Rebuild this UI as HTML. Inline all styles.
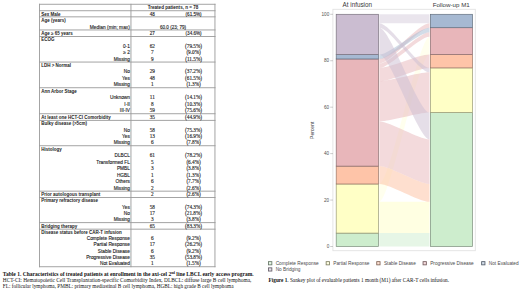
<!DOCTYPE html>
<html><head><meta charset="utf-8"><style>
html,body{margin:0;padding:0;background:#fff;}
body{width:520px;height:292px;position:relative;overflow:hidden;}
svg{position:absolute;left:0;top:0;}
</style></head><body>
<svg width="520" height="292" viewBox="0 0 520 292">
<rect x="39.00" y="3.80" width="176.50" height="0.9" fill="#9a9a9a"/>
<rect x="39.00" y="10.30" width="176.50" height="0.9" fill="#9a9a9a"/>
<rect x="39.00" y="16.40" width="176.50" height="0.9" fill="#9a9a9a"/>
<rect x="39.00" y="29.50" width="176.50" height="0.9" fill="#9a9a9a"/>
<rect x="39.00" y="36.00" width="176.50" height="0.9" fill="#9a9a9a"/>
<rect x="39.00" y="61.60" width="176.50" height="0.9" fill="#9a9a9a"/>
<rect x="39.00" y="87.30" width="176.50" height="0.9" fill="#9a9a9a"/>
<rect x="39.00" y="113.30" width="176.50" height="0.9" fill="#9a9a9a"/>
<rect x="39.00" y="119.90" width="176.50" height="0.9" fill="#9a9a9a"/>
<rect x="39.00" y="145.30" width="176.50" height="0.9" fill="#9a9a9a"/>
<rect x="39.00" y="190.70" width="176.50" height="0.9" fill="#9a9a9a"/>
<rect x="39.00" y="197.00" width="176.50" height="0.9" fill="#9a9a9a"/>
<rect x="39.00" y="222.20" width="176.50" height="0.9" fill="#9a9a9a"/>
<rect x="39.00" y="228.70" width="176.50" height="0.9" fill="#9a9a9a"/>
<rect x="39.00" y="266.30" width="176.50" height="0.9" fill="#9a9a9a"/>
<rect x="39.00" y="3.80" width="0.9" height="263.40" fill="#9a9a9a"/>
<rect x="130.50" y="3.80" width="0.9" height="263.40" fill="#9a9a9a"/>
<rect x="214.50" y="3.80" width="0.9" height="263.40" fill="#9a9a9a"/>
<text x="173.00" y="9.30" font-family="Liberation Sans" font-size="4.5" font-weight="bold" text-anchor="middle" fill="#1a1a1a" textLength="50.6" lengthAdjust="spacingAndGlyphs">Treated patients, n = 78</text>
<text x="41.20" y="15.60" font-family="Liberation Sans" font-size="4.5" font-weight="bold" fill="#1a1a1a">Sex Male</text>
<text x="152.30" y="15.60" font-family="Liberation Sans" font-size="4.6" text-anchor="middle" fill="#1a1a1a" stroke="#1a1a1a" stroke-width="0.12">48</text>
<text x="193.60" y="15.60" font-family="Liberation Sans" font-size="4.6" text-anchor="middle" fill="#1a1a1a" stroke="#1a1a1a" stroke-width="0.12">(61.5%)</text>
<text x="41.20" y="22.15" font-family="Liberation Sans" font-size="4.5" font-weight="bold" fill="#1a1a1a">Age (years)</text>
<text x="129.90" y="28.70" font-family="Liberation Sans" font-size="4.85" text-anchor="end" fill="#1a1a1a" stroke="#1a1a1a" stroke-width="0.12">Median (min; max)</text>
<text x="173.00" y="28.70" font-family="Liberation Sans" font-size="4.6" text-anchor="middle" fill="#1a1a1a" stroke="#1a1a1a" stroke-width="0.12">60.0 (23; 79)</text>
<text x="41.20" y="35.20" font-family="Liberation Sans" font-size="4.5" font-weight="bold" fill="#1a1a1a">Age ≥ 65 years</text>
<text x="152.30" y="35.20" font-family="Liberation Sans" font-size="4.6" text-anchor="middle" fill="#1a1a1a" stroke="#1a1a1a" stroke-width="0.12">27</text>
<text x="193.60" y="35.20" font-family="Liberation Sans" font-size="4.6" text-anchor="middle" fill="#1a1a1a" stroke="#1a1a1a" stroke-width="0.12">(34.6%)</text>
<text x="41.20" y="41.30" font-family="Liberation Sans" font-size="4.5" font-weight="bold" fill="#1a1a1a">ECOG</text>
<text x="129.90" y="47.70" font-family="Liberation Sans" font-size="4.78" text-anchor="end" fill="#1a1a1a" stroke="#1a1a1a" stroke-width="0.12">0-1</text>
<text x="152.30" y="47.70" font-family="Liberation Serif" font-size="5.25" text-anchor="middle" fill="#1a1a1a" stroke="#1a1a1a" stroke-width="0.12">62</text>
<text x="193.60" y="47.70" font-family="Liberation Serif" font-size="5.25" text-anchor="middle" fill="#1a1a1a" stroke="#1a1a1a" stroke-width="0.12">(79.5%)</text>
<text x="129.90" y="54.10" font-family="Liberation Sans" font-size="4.78" text-anchor="end" fill="#1a1a1a" stroke="#1a1a1a" stroke-width="0.12">≥ 2</text>
<text x="152.30" y="54.10" font-family="Liberation Serif" font-size="5.25" text-anchor="middle" fill="#1a1a1a" stroke="#1a1a1a" stroke-width="0.12">7</text>
<text x="193.60" y="54.10" font-family="Liberation Serif" font-size="5.25" text-anchor="middle" fill="#1a1a1a" stroke="#1a1a1a" stroke-width="0.12">(9.0%)</text>
<text x="129.90" y="60.50" font-family="Liberation Sans" font-size="4.78" text-anchor="end" fill="#1a1a1a" stroke="#1a1a1a" stroke-width="0.12">Missing</text>
<text x="152.30" y="60.50" font-family="Liberation Serif" font-size="5.25" text-anchor="middle" fill="#1a1a1a" stroke="#1a1a1a" stroke-width="0.12">9</text>
<text x="193.60" y="60.50" font-family="Liberation Serif" font-size="5.25" text-anchor="middle" fill="#1a1a1a" stroke="#1a1a1a" stroke-width="0.12">(11.5%)</text>
<text x="41.20" y="66.93" font-family="Liberation Sans" font-size="4.5" font-weight="bold" fill="#1a1a1a">LDH &gt; Normal</text>
<text x="129.90" y="73.35" font-family="Liberation Sans" font-size="4.78" text-anchor="end" fill="#1a1a1a" stroke="#1a1a1a" stroke-width="0.12">No</text>
<text x="152.30" y="73.35" font-family="Liberation Serif" font-size="5.25" text-anchor="middle" fill="#1a1a1a" stroke="#1a1a1a" stroke-width="0.12">29</text>
<text x="193.60" y="73.35" font-family="Liberation Serif" font-size="5.25" text-anchor="middle" fill="#1a1a1a" stroke="#1a1a1a" stroke-width="0.12">(37.2%)</text>
<text x="129.90" y="79.78" font-family="Liberation Sans" font-size="4.78" text-anchor="end" fill="#1a1a1a" stroke="#1a1a1a" stroke-width="0.12">Yes</text>
<text x="152.30" y="79.78" font-family="Liberation Serif" font-size="5.25" text-anchor="middle" fill="#1a1a1a" stroke="#1a1a1a" stroke-width="0.12">48</text>
<text x="193.60" y="79.78" font-family="Liberation Serif" font-size="5.25" text-anchor="middle" fill="#1a1a1a" stroke="#1a1a1a" stroke-width="0.12">(61.5%)</text>
<text x="129.90" y="86.20" font-family="Liberation Sans" font-size="4.78" text-anchor="end" fill="#1a1a1a" stroke="#1a1a1a" stroke-width="0.12">Missing</text>
<text x="152.30" y="86.20" font-family="Liberation Serif" font-size="5.25" text-anchor="middle" fill="#1a1a1a" stroke="#1a1a1a" stroke-width="0.12">1</text>
<text x="193.60" y="86.20" font-family="Liberation Serif" font-size="5.25" text-anchor="middle" fill="#1a1a1a" stroke="#1a1a1a" stroke-width="0.12">(1.3%)</text>
<text x="41.20" y="92.70" font-family="Liberation Sans" font-size="4.5" font-weight="bold" fill="#1a1a1a">Ann Arbor Stage</text>
<text x="129.90" y="99.20" font-family="Liberation Sans" font-size="4.78" text-anchor="end" fill="#1a1a1a" stroke="#1a1a1a" stroke-width="0.12">Unknown</text>
<text x="152.30" y="99.20" font-family="Liberation Serif" font-size="5.25" text-anchor="middle" fill="#1a1a1a" stroke="#1a1a1a" stroke-width="0.12">11</text>
<text x="193.60" y="99.20" font-family="Liberation Serif" font-size="5.25" text-anchor="middle" fill="#1a1a1a" stroke="#1a1a1a" stroke-width="0.12">(14.1%)</text>
<text x="129.90" y="105.70" font-family="Liberation Sans" font-size="4.78" text-anchor="end" fill="#1a1a1a" stroke="#1a1a1a" stroke-width="0.12">I-II</text>
<text x="152.30" y="105.70" font-family="Liberation Serif" font-size="5.25" text-anchor="middle" fill="#1a1a1a" stroke="#1a1a1a" stroke-width="0.12">8</text>
<text x="193.60" y="105.70" font-family="Liberation Serif" font-size="5.25" text-anchor="middle" fill="#1a1a1a" stroke="#1a1a1a" stroke-width="0.12">(10.3%)</text>
<text x="129.90" y="112.20" font-family="Liberation Sans" font-size="4.78" text-anchor="end" fill="#1a1a1a" stroke="#1a1a1a" stroke-width="0.12">III-IV</text>
<text x="152.30" y="112.20" font-family="Liberation Serif" font-size="5.25" text-anchor="middle" fill="#1a1a1a" stroke="#1a1a1a" stroke-width="0.12">59</text>
<text x="193.60" y="112.20" font-family="Liberation Serif" font-size="5.25" text-anchor="middle" fill="#1a1a1a" stroke="#1a1a1a" stroke-width="0.12">(75.6%)</text>
<text x="41.20" y="118.80" font-family="Liberation Sans" font-size="4.5" font-weight="bold" fill="#1a1a1a">At least one HCT-CI Comorbidity</text>
<text x="152.30" y="118.80" font-family="Liberation Serif" font-size="5.25" text-anchor="middle" fill="#1a1a1a" stroke="#1a1a1a" stroke-width="0.12">35</text>
<text x="193.60" y="118.80" font-family="Liberation Serif" font-size="5.25" text-anchor="middle" fill="#1a1a1a" stroke="#1a1a1a" stroke-width="0.12">(44.9%)</text>
<text x="41.20" y="125.15" font-family="Liberation Sans" font-size="4.5" font-weight="bold" fill="#1a1a1a">Bulky disease (&gt;5cm)</text>
<text x="129.90" y="131.50" font-family="Liberation Sans" font-size="4.78" text-anchor="end" fill="#1a1a1a" stroke="#1a1a1a" stroke-width="0.12">No</text>
<text x="152.30" y="131.50" font-family="Liberation Serif" font-size="5.25" text-anchor="middle" fill="#1a1a1a" stroke="#1a1a1a" stroke-width="0.12">58</text>
<text x="193.60" y="131.50" font-family="Liberation Serif" font-size="5.25" text-anchor="middle" fill="#1a1a1a" stroke="#1a1a1a" stroke-width="0.12">(75.3%)</text>
<text x="129.90" y="137.85" font-family="Liberation Sans" font-size="4.78" text-anchor="end" fill="#1a1a1a" stroke="#1a1a1a" stroke-width="0.12">Yes</text>
<text x="152.30" y="137.85" font-family="Liberation Serif" font-size="5.25" text-anchor="middle" fill="#1a1a1a" stroke="#1a1a1a" stroke-width="0.12">13</text>
<text x="193.60" y="137.85" font-family="Liberation Serif" font-size="5.25" text-anchor="middle" fill="#1a1a1a" stroke="#1a1a1a" stroke-width="0.12">(16.9%)</text>
<text x="129.90" y="144.20" font-family="Liberation Sans" font-size="4.78" text-anchor="end" fill="#1a1a1a" stroke="#1a1a1a" stroke-width="0.12">Missing</text>
<text x="152.30" y="144.20" font-family="Liberation Serif" font-size="5.25" text-anchor="middle" fill="#1a1a1a" stroke="#1a1a1a" stroke-width="0.12">6</text>
<text x="193.60" y="144.20" font-family="Liberation Serif" font-size="5.25" text-anchor="middle" fill="#1a1a1a" stroke="#1a1a1a" stroke-width="0.12">(7.8%)</text>
<text x="41.20" y="150.69" font-family="Liberation Sans" font-size="4.5" font-weight="bold" fill="#1a1a1a">Histology</text>
<text x="129.90" y="157.17" font-family="Liberation Sans" font-size="4.78" text-anchor="end" fill="#1a1a1a" stroke="#1a1a1a" stroke-width="0.12">DLBCL</text>
<text x="152.30" y="157.17" font-family="Liberation Serif" font-size="5.25" text-anchor="middle" fill="#1a1a1a" stroke="#1a1a1a" stroke-width="0.12">61</text>
<text x="193.60" y="157.17" font-family="Liberation Serif" font-size="5.25" text-anchor="middle" fill="#1a1a1a" stroke="#1a1a1a" stroke-width="0.12">(78.2%)</text>
<text x="129.90" y="163.66" font-family="Liberation Sans" font-size="4.78" text-anchor="end" fill="#1a1a1a" stroke="#1a1a1a" stroke-width="0.12">Transformed FL</text>
<text x="152.30" y="163.66" font-family="Liberation Serif" font-size="5.25" text-anchor="middle" fill="#1a1a1a" stroke="#1a1a1a" stroke-width="0.12">5</text>
<text x="193.60" y="163.66" font-family="Liberation Serif" font-size="5.25" text-anchor="middle" fill="#1a1a1a" stroke="#1a1a1a" stroke-width="0.12">(6.4%)</text>
<text x="129.90" y="170.14" font-family="Liberation Sans" font-size="4.78" text-anchor="end" fill="#1a1a1a" stroke="#1a1a1a" stroke-width="0.12">PMBL</text>
<text x="152.30" y="170.14" font-family="Liberation Serif" font-size="5.25" text-anchor="middle" fill="#1a1a1a" stroke="#1a1a1a" stroke-width="0.12">3</text>
<text x="193.60" y="170.14" font-family="Liberation Serif" font-size="5.25" text-anchor="middle" fill="#1a1a1a" stroke="#1a1a1a" stroke-width="0.12">(3.8%)</text>
<text x="129.90" y="176.63" font-family="Liberation Sans" font-size="4.78" text-anchor="end" fill="#1a1a1a" stroke="#1a1a1a" stroke-width="0.12">HGBL</text>
<text x="152.30" y="176.63" font-family="Liberation Serif" font-size="5.25" text-anchor="middle" fill="#1a1a1a" stroke="#1a1a1a" stroke-width="0.12">1</text>
<text x="193.60" y="176.63" font-family="Liberation Serif" font-size="5.25" text-anchor="middle" fill="#1a1a1a" stroke="#1a1a1a" stroke-width="0.12">(1.3%)</text>
<text x="129.90" y="183.11" font-family="Liberation Sans" font-size="4.78" text-anchor="end" fill="#1a1a1a" stroke="#1a1a1a" stroke-width="0.12">Others</text>
<text x="152.30" y="183.11" font-family="Liberation Serif" font-size="5.25" text-anchor="middle" fill="#1a1a1a" stroke="#1a1a1a" stroke-width="0.12">6</text>
<text x="193.60" y="183.11" font-family="Liberation Serif" font-size="5.25" text-anchor="middle" fill="#1a1a1a" stroke="#1a1a1a" stroke-width="0.12">(7.7%)</text>
<text x="129.90" y="189.60" font-family="Liberation Sans" font-size="4.78" text-anchor="end" fill="#1a1a1a" stroke="#1a1a1a" stroke-width="0.12">Missing</text>
<text x="152.30" y="189.60" font-family="Liberation Serif" font-size="5.25" text-anchor="middle" fill="#1a1a1a" stroke="#1a1a1a" stroke-width="0.12">2</text>
<text x="193.60" y="189.60" font-family="Liberation Serif" font-size="5.25" text-anchor="middle" fill="#1a1a1a" stroke="#1a1a1a" stroke-width="0.12">(2.6%)</text>
<text x="41.20" y="195.90" font-family="Liberation Sans" font-size="4.5" font-weight="bold" fill="#1a1a1a">Prior autologous transplant</text>
<text x="152.30" y="195.90" font-family="Liberation Serif" font-size="5.25" text-anchor="middle" fill="#1a1a1a" stroke="#1a1a1a" stroke-width="0.12">2</text>
<text x="193.60" y="195.90" font-family="Liberation Serif" font-size="5.25" text-anchor="middle" fill="#1a1a1a" stroke="#1a1a1a" stroke-width="0.12">(2.6%)</text>
<text x="41.20" y="202.20" font-family="Liberation Sans" font-size="4.5" font-weight="bold" fill="#1a1a1a">Primary refractory disease</text>
<text x="129.90" y="208.50" font-family="Liberation Sans" font-size="4.78" text-anchor="end" fill="#1a1a1a" stroke="#1a1a1a" stroke-width="0.12">Yes</text>
<text x="152.30" y="208.50" font-family="Liberation Serif" font-size="5.25" text-anchor="middle" fill="#1a1a1a" stroke="#1a1a1a" stroke-width="0.12">58</text>
<text x="193.60" y="208.50" font-family="Liberation Serif" font-size="5.25" text-anchor="middle" fill="#1a1a1a" stroke="#1a1a1a" stroke-width="0.12">(74.3%)</text>
<text x="129.90" y="214.80" font-family="Liberation Sans" font-size="4.78" text-anchor="end" fill="#1a1a1a" stroke="#1a1a1a" stroke-width="0.12">No</text>
<text x="152.30" y="214.80" font-family="Liberation Serif" font-size="5.25" text-anchor="middle" fill="#1a1a1a" stroke="#1a1a1a" stroke-width="0.12">17</text>
<text x="193.60" y="214.80" font-family="Liberation Serif" font-size="5.25" text-anchor="middle" fill="#1a1a1a" stroke="#1a1a1a" stroke-width="0.12">(21.8%)</text>
<text x="129.90" y="221.10" font-family="Liberation Sans" font-size="4.78" text-anchor="end" fill="#1a1a1a" stroke="#1a1a1a" stroke-width="0.12">Missing</text>
<text x="152.30" y="221.10" font-family="Liberation Serif" font-size="5.25" text-anchor="middle" fill="#1a1a1a" stroke="#1a1a1a" stroke-width="0.12">3</text>
<text x="193.60" y="221.10" font-family="Liberation Serif" font-size="5.25" text-anchor="middle" fill="#1a1a1a" stroke="#1a1a1a" stroke-width="0.12">(3.8%)</text>
<text x="41.20" y="227.60" font-family="Liberation Sans" font-size="4.5" font-weight="bold" fill="#1a1a1a">Bridging therapy</text>
<text x="152.30" y="227.60" font-family="Liberation Serif" font-size="5.25" text-anchor="middle" fill="#1a1a1a" stroke="#1a1a1a" stroke-width="0.12">65</text>
<text x="193.60" y="227.60" font-family="Liberation Serif" font-size="5.25" text-anchor="middle" fill="#1a1a1a" stroke="#1a1a1a" stroke-width="0.12">(83.3%)</text>
<text x="41.20" y="233.87" font-family="Liberation Sans" font-size="4.5" font-weight="bold" fill="#1a1a1a">Disease status before CAR-T infusion</text>
<text x="129.90" y="240.13" font-family="Liberation Sans" font-size="4.78" text-anchor="end" fill="#1a1a1a" stroke="#1a1a1a" stroke-width="0.12">Complete Response</text>
<text x="152.30" y="240.13" font-family="Liberation Serif" font-size="5.25" text-anchor="middle" fill="#1a1a1a" stroke="#1a1a1a" stroke-width="0.12">6</text>
<text x="193.60" y="240.13" font-family="Liberation Serif" font-size="5.25" text-anchor="middle" fill="#1a1a1a" stroke="#1a1a1a" stroke-width="0.12">(9.2%)</text>
<text x="129.90" y="246.40" font-family="Liberation Sans" font-size="4.78" text-anchor="end" fill="#1a1a1a" stroke="#1a1a1a" stroke-width="0.12">Partial Response</text>
<text x="152.30" y="246.40" font-family="Liberation Serif" font-size="5.25" text-anchor="middle" fill="#1a1a1a" stroke="#1a1a1a" stroke-width="0.12">17</text>
<text x="193.60" y="246.40" font-family="Liberation Serif" font-size="5.25" text-anchor="middle" fill="#1a1a1a" stroke="#1a1a1a" stroke-width="0.12">(26.2%)</text>
<text x="129.90" y="252.67" font-family="Liberation Sans" font-size="4.78" text-anchor="end" fill="#1a1a1a" stroke="#1a1a1a" stroke-width="0.12">Stable Disease</text>
<text x="152.30" y="252.67" font-family="Liberation Serif" font-size="5.25" text-anchor="middle" fill="#1a1a1a" stroke="#1a1a1a" stroke-width="0.12">6</text>
<text x="193.60" y="252.67" font-family="Liberation Serif" font-size="5.25" text-anchor="middle" fill="#1a1a1a" stroke="#1a1a1a" stroke-width="0.12">(9.2%)</text>
<text x="129.90" y="258.93" font-family="Liberation Sans" font-size="4.78" text-anchor="end" fill="#1a1a1a" stroke="#1a1a1a" stroke-width="0.12">Progressive Disease</text>
<text x="152.30" y="258.93" font-family="Liberation Serif" font-size="5.25" text-anchor="middle" fill="#1a1a1a" stroke="#1a1a1a" stroke-width="0.12">35</text>
<text x="193.60" y="258.93" font-family="Liberation Serif" font-size="5.25" text-anchor="middle" fill="#1a1a1a" stroke="#1a1a1a" stroke-width="0.12">(53.8%)</text>
<text x="129.90" y="265.20" font-family="Liberation Sans" font-size="4.78" text-anchor="end" fill="#1a1a1a" stroke="#1a1a1a" stroke-width="0.12">Not Evaluated</text>
<text x="152.30" y="265.20" font-family="Liberation Serif" font-size="5.25" text-anchor="middle" fill="#1a1a1a" stroke="#1a1a1a" stroke-width="0.12">1</text>
<text x="193.60" y="265.20" font-family="Liberation Serif" font-size="5.25" text-anchor="middle" fill="#1a1a1a" stroke="#1a1a1a" stroke-width="0.12">(1.5%)</text>
<text x="2.80" y="275.60" font-family="Liberation Serif" font-size="5.52" font-weight="bold" fill="#111">Table 1. Characteristics of treated patients at enrollment in the axi-cel 2<tspan font-size="3.4" dy="-1.8">nd</tspan><tspan dy="1.8"> line LBCL early access program.</tspan></text>
<text x="2.80" y="281.90" font-family="Liberation Serif" font-size="5.3" fill="#111" textLength="248.6" lengthAdjust="spacingAndGlyphs">HCT-CI: Hematopoietic Cell Transplantation-specific Comorbidity Index, DLBCL: diffuse large B cell lymphoma,</text>
<text x="2.80" y="287.90" font-family="Liberation Serif" font-size="5.25" fill="#111">FL: follicular lymphoma, PMBL: primary mediastinal B cell lymphoma, HGBL: high grade B cell lymphoma</text>
<rect x="332.9" y="9.3" width="142.4" height="241.4" fill="none" stroke="#e2e2e2" stroke-width="0.9"/>
<path d="M379.30,233.10 C390.34,233.10 418.46,233.10 429.50,233.10 L429.50,246.50 C418.46,246.50 390.34,246.50 379.30,246.50 Z" fill="#cdedcd" fill-opacity="0.5"/>
<path d="M379.30,201.85 C390.34,201.85 418.46,201.85 429.50,201.85 L429.50,233.10 C418.46,233.10 390.34,233.10 379.30,233.10 Z" fill="#ffffc6" fill-opacity="0.5"/>
<path d="M379.30,183.98 C390.34,183.98 418.46,36.63 429.50,36.63 L429.50,54.49 C418.46,54.49 390.34,201.85 379.30,201.85 Z" fill="#ffffc6" fill-opacity="0.3"/>
<path d="M379.30,166.12 C390.34,166.12 418.46,183.98 429.50,183.98 L429.50,201.85 C418.46,201.85 390.34,183.98 379.30,183.98 Z" fill="#fec4a8" fill-opacity="0.55"/>
<path d="M379.30,121.47 C390.34,121.47 418.46,139.33 429.50,139.33 L429.50,183.98 C418.46,183.98 390.34,166.12 379.30,166.12 Z" fill="#e8b6ba" fill-opacity="0.5"/>
<path d="M379.30,81.28 C390.34,81.28 418.46,72.35 429.50,72.35 L429.50,112.54 C418.46,112.54 390.34,121.47 379.30,121.47 Z" fill="#e8b6ba" fill-opacity="0.5"/>
<path d="M379.30,67.88 C390.34,67.88 418.46,54.49 429.50,54.49 L429.50,67.88 C418.46,67.88 390.34,81.28 379.30,81.28 Z" fill="#e8b6ba" fill-opacity="0.5"/>
<path d="M379.30,63.42 C390.34,63.42 418.46,32.16 429.50,32.16 L429.50,36.63 C418.46,36.63 390.34,67.88 379.30,67.88 Z" fill="#e8b6ba" fill-opacity="0.5"/>
<path d="M379.30,58.95 C390.34,58.95 418.46,23.23 429.50,23.23 L429.50,27.70 C418.46,27.70 390.34,63.42 379.30,63.42 Z" fill="#e8b6ba" fill-opacity="0.5"/>
<path d="M379.30,54.49 C390.34,54.49 418.46,27.70 429.50,27.70 L429.50,32.16 C418.46,32.16 390.34,58.95 379.30,58.95 Z" fill="#a6b9d2" fill-opacity="0.5"/>
<path d="M379.30,27.70 C390.34,27.70 418.46,112.54 429.50,112.54 L429.50,139.33 C418.46,139.33 390.34,54.49 379.30,54.49 Z" fill="#cbbdd1" fill-opacity="0.5"/>
<path d="M379.30,23.23 C390.34,23.23 418.46,67.88 429.50,67.88 L429.50,72.35 C418.46,72.35 390.34,27.70 379.30,27.70 Z" fill="#cbbdd1" fill-opacity="0.5"/>
<path d="M379.30,14.30 C390.34,14.30 418.46,14.30 429.50,14.30 L429.50,23.23 C418.46,23.23 390.34,23.23 379.30,23.23 Z" fill="#cbbdd1" fill-opacity="0.4"/>
<rect x="336.20" y="233.10" width="42.20" height="13.40" fill="#cdedcd" stroke="#7b8e7b" stroke-width="0.7"/>
<rect x="336.20" y="183.98" width="42.20" height="49.12" fill="#ffffc6" stroke="#999976" stroke-width="0.7"/>
<rect x="336.20" y="166.12" width="42.20" height="17.86" fill="#fec4a8" stroke="#987564" stroke-width="0.7"/>
<rect x="336.20" y="58.95" width="42.20" height="107.17" fill="#e8b6ba" stroke="#8b6d6f" stroke-width="0.7"/>
<rect x="336.20" y="54.49" width="42.20" height="4.47" fill="#a6b9d2" stroke="#636f7e" stroke-width="0.7"/>
<rect x="336.20" y="14.30" width="42.20" height="40.19" fill="#cbbdd1" stroke="#79717d" stroke-width="0.7"/>
<rect x="430.40" y="112.54" width="42.10" height="133.96" fill="#cdedcd" stroke="#7b8e7b" stroke-width="0.7"/>
<rect x="430.40" y="67.88" width="42.10" height="44.65" fill="#ffffc6" stroke="#999976" stroke-width="0.7"/>
<rect x="430.40" y="54.49" width="42.10" height="13.40" fill="#fec4a8" stroke="#987564" stroke-width="0.7"/>
<rect x="430.40" y="27.70" width="42.10" height="26.79" fill="#e8b6ba" stroke="#8b6d6f" stroke-width="0.7"/>
<rect x="430.40" y="14.30" width="42.10" height="13.40" fill="#a6b9d2" stroke="#636f7e" stroke-width="0.7"/>
<line x1="330.2" y1="246.50" x2="333" y2="246.50" stroke="#aaaaaa" stroke-width="0.6"/>
<text x="329.20" y="248.15" font-family="Liberation Sans" font-size="4.6" text-anchor="end" fill="#505050">0</text>
<line x1="330.2" y1="200.06" x2="333" y2="200.06" stroke="#aaaaaa" stroke-width="0.6"/>
<text x="329.20" y="201.71" font-family="Liberation Sans" font-size="4.6" text-anchor="end" fill="#505050">20</text>
<line x1="330.2" y1="153.62" x2="333" y2="153.62" stroke="#aaaaaa" stroke-width="0.6"/>
<text x="329.20" y="155.27" font-family="Liberation Sans" font-size="4.6" text-anchor="end" fill="#505050">40</text>
<line x1="330.2" y1="107.18" x2="333" y2="107.18" stroke="#aaaaaa" stroke-width="0.6"/>
<text x="329.20" y="108.83" font-family="Liberation Sans" font-size="4.6" text-anchor="end" fill="#505050">60</text>
<line x1="330.2" y1="60.74" x2="333" y2="60.74" stroke="#aaaaaa" stroke-width="0.6"/>
<text x="329.20" y="62.39" font-family="Liberation Sans" font-size="4.6" text-anchor="end" fill="#505050">80</text>
<line x1="330.2" y1="14.30" x2="333" y2="14.30" stroke="#aaaaaa" stroke-width="0.6"/>
<text x="329.20" y="15.95" font-family="Liberation Sans" font-size="4.6" text-anchor="end" fill="#505050">100</text>
<text transform="translate(313.6,130.3) rotate(-90)" text-anchor="middle" font-family="Liberation Sans" font-size="5" fill="#383838">Percent</text>
<text x="357.30" y="6.90" font-family="Liberation Sans" font-size="6.3" text-anchor="middle" fill="#383838">At infusion</text>
<text x="451.20" y="6.90" font-family="Liberation Sans" font-size="6.2" text-anchor="middle" fill="#383838">Follow-up M1</text>
<rect x="268.55" y="261.65" width="3.3" height="3.2" fill="#e6f6e6" stroke="#667666" stroke-width="0.85"/>
<text x="275.70" y="264.80" font-family="Liberation Sans" font-size="4.75" fill="#4a4a4a">Complete Response</text>
<rect x="326.15" y="261.65" width="3.3" height="3.2" fill="#ffffe2" stroke="#7f7f63" stroke-width="0.85"/>
<text x="333.30" y="264.80" font-family="Liberation Sans" font-size="4.75" fill="#4a4a4a">Partial Response</text>
<rect x="376.75" y="261.65" width="3.3" height="3.2" fill="#fee1d3" stroke="#7f6254" stroke-width="0.85"/>
<text x="383.90" y="264.80" font-family="Liberation Sans" font-size="4.75" fill="#4a4a4a">Stable Disease</text>
<rect x="423.05" y="261.65" width="3.3" height="3.2" fill="#f3dadc" stroke="#745b5d" stroke-width="0.85"/>
<text x="430.20" y="264.80" font-family="Liberation Sans" font-size="4.75" fill="#4a4a4a">Progressive Disease</text>
<rect x="481.65" y="261.65" width="3.3" height="3.2" fill="#d2dce8" stroke="#535c69" stroke-width="0.85"/>
<text x="488.80" y="264.80" font-family="Liberation Sans" font-size="4.75" fill="#4a4a4a">Not Evaluated</text>
<rect x="268.55" y="267.85" width="3.3" height="3.2" fill="#e5dee8" stroke="#655e68" stroke-width="0.85"/>
<text x="275.70" y="271.00" font-family="Liberation Sans" font-size="4.75" fill="#4a4a4a">No Bridging</text>
<text x="268.60" y="281.80" font-family="Liberation Serif" font-size="5.25" fill="#111"><tspan font-weight="bold">Figure 1</tspan>. Sankey plot of evaluable patients 1 month (M1) after CAR-T cells infusion.</text>
</svg>
</body></html>
